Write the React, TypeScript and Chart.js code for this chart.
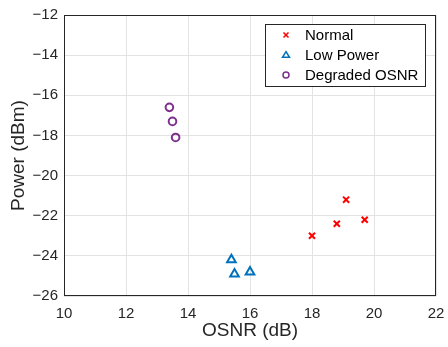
import React, { useEffect, useRef } from "react";
import { Chart, registerables } from "chart.js";

Chart.register(...registerables);

// ---- data ----
const seriesLabels = ["Normal", "Low Power", "Degraded OSNR"];
const normalOSNR = [18.0, 18.8, 19.1, 19.7];
const normalPower = [-23.0, -22.4, -21.2, -22.2];
const lowOSNR = [15.4, 15.5, 16.0];
const lowPower = [-24.2, -24.9, -24.8];
const degOSNR = [13.4, 13.5, 13.6];
const degPower = [-16.6, -17.3, -18.1];
const xRange = [10, 22];
const yRange = [-26, -12];
const xTitle = "OSNR (dB)";
const yTitle = "Power (dBm)";

const colors = ["#FF0000", "#0072BD", "#7E2F8E"];
const styles = ["crossRot", "triangle", "circle"];
const FONT = "'Liberation Sans', Arial, sans-serif";
const TEXT = "#262626";

const zip = (xs: number[], ys: number[]) => xs.map((x, i) => ({ x, y: ys[i] }));

function drawMarker(ctx: CanvasRenderingContext2D, style: string, x: number, y: number, r: number) {
  ctx.beginPath();
  if (style === "crossRot") {
    ctx.moveTo(x - r, y - r);
    ctx.lineTo(x + r, y + r);
    ctx.moveTo(x + r, y - r);
    ctx.lineTo(x - r, y + r);
  } else if (style === "triangle") {
    const h = r * 1.6;
    ctx.moveTo(x, y - h * 0.6);
    ctx.lineTo(x + r, y + h * 0.4);
    ctx.lineTo(x - r, y + h * 0.4);
    ctx.closePath();
  } else {
    ctx.arc(x, y, r, 0, Math.PI * 2);
  }
  ctx.stroke();
}

const boxLegend = {
  id: "boxLegend",
  afterDraw(chart: any) {
    const { ctx, chartArea } = chart;
    const ca = chartArea;
    ctx.save();
    // axes box
    ctx.strokeStyle = TEXT;
    ctx.lineWidth = 1;
    ctx.strokeRect(Math.round(ca.left) + 0.5, Math.round(ca.top) + 0.5, Math.round(ca.right - ca.left) - 1, Math.round(ca.bottom - ca.top) - 1);

    // legend
    const w = 160;
    const h = 62;
    const bx = Math.round(ca.right) - 11 - w;
    const by = Math.round(ca.top) + 9;
    ctx.fillStyle = "#ffffff";
    ctx.fillRect(bx, by, w, h);
    ctx.strokeStyle = TEXT;
    ctx.strokeRect(bx + 0.5, by + 0.5, w, h);
    ctx.font = `15px ${FONT}`;
    ctx.textBaseline = "middle";
    ctx.textAlign = "left";
    chart.data.datasets.forEach((ds: any, i: number) => {
      const cy = by + 11 + i * 20;
      ctx.strokeStyle = colors[i];
      ctx.lineWidth = 1.5;
      const r = styles[i] === "crossRot" ? 2.5 : styles[i] === "triangle" ? 3.5 : 3;
      drawMarker(ctx, styles[i], bx + 21, cy, r);
      ctx.fillStyle = "#000000";
      ctx.fillText(ds.label, bx + 40, cy + 1);
    });
    ctx.restore();
  },
};

const fmt = (v: number | string) => {
  const n = Number(v);
  return n < 0 ? "\u2212" + Math.abs(n) : String(n);
};

export default function App() {
  const ref = useRef<HTMLCanvasElement | null>(null);
  useEffect(() => {
    document.body.style.margin = "0";
    const canvas = ref.current!;
    const chart = new Chart(canvas, {
      type: "scatter",
      data: {
        datasets: [
          { label: seriesLabels[0], data: zip(normalOSNR, normalPower) },
          { label: seriesLabels[1], data: zip(lowOSNR, lowPower) },
          { label: seriesLabels[2], data: zip(degOSNR, degPower) },
        ].map((d, i) => ({
          ...d,
          pointStyle: styles[i] as any,
          pointRadius: i === 0 ? 4.3 : i === 1 ? 5 : 3.8,
          pointBorderWidth: 2,
          borderColor: colors[i],
          backgroundColor: "rgba(0,0,0,0)",
          pointBackgroundColor: "rgba(0,0,0,0)",
          pointBorderColor: colors[i],
        })),
      },
      options: {
        animation: false,
        responsive: false,
        layout: { padding: { left: 0, top: 15, right: 12, bottom: 0 } },
        plugins: { legend: { display: false }, tooltip: { enabled: false } },
        scales: {
          x: {
            type: "linear",
            min: xRange[0],
            max: xRange[1],
            afterFit: (s: any) => { s.height = 51; s.paddingLeft = 0; s.paddingRight = 0; },
            grid: { color: "#e3e3e3", drawTicks: false },
            border: { display: false },
            ticks: { stepSize: 2, padding: 9, color: TEXT, font: { family: FONT, size: 15 }, callback: fmt, maxRotation: 0 },
            title: { display: true, text: xTitle, color: TEXT, font: { family: FONT, size: 19 }, padding: { top: 0, bottom: 5 } },
          },
          y: {
            type: "linear",
            min: yRange[0],
            max: yRange[1],
            afterFit: (s: any) => { s.width = 64; },
            grid: { color: "#e3e3e3", drawTicks: false },
            border: { display: false },
            ticks: { stepSize: 2, padding: 6, color: TEXT, font: { family: FONT, size: 15 }, callback: fmt },
            title: { display: true, text: yTitle, color: TEXT, font: { family: FONT, size: 19 }, padding: { top: 7, bottom: 0 } },
          },
        },
      },
      plugins: [boxLegend],
    });
    return () => chart.destroy();
  }, []);
  return (
    <div style={{ position: "absolute", left: 0, top: 0, width: 448, height: 347, background: "#fff" }}>
      <canvas ref={ref} width={448} height={347} style={{ display: "block" }} />
    </div>
  );
}
